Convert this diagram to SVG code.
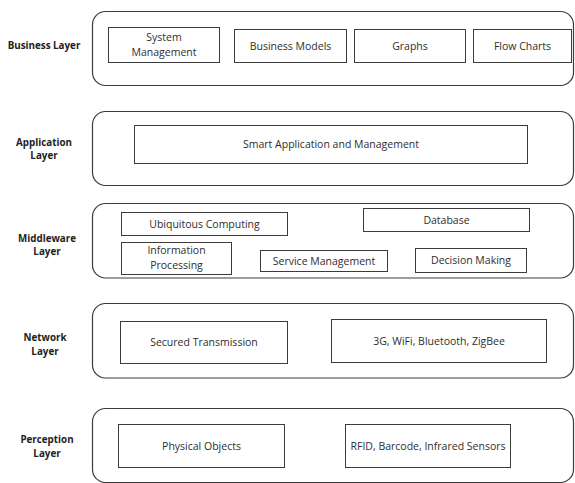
<svg xmlns="http://www.w3.org/2000/svg" width="575" height="483" viewBox="0 0 575 483">
  <style>
    .layer { fill: #ffffff; stroke: #3c3c3c; stroke-width: 1.2; }
    .box { fill: #ffffff; stroke: #3c3c3c; stroke-width: 1; }
    .lbl { font-family: "Open Sans", "Noto Sans", sans-serif; font-size: 9.8px; font-weight: bold; fill: #222222; text-anchor: middle; }
    .txt { font-family: "Open Sans", "Noto Sans", sans-serif; font-size: 10.5px; fill: #2e2e2e; text-anchor: middle; }
  </style>
  <rect x="0" y="0" width="575" height="483" fill="#ffffff"/>

  <!-- Business layer -->
  <g id="business-layer">
    <text class="lbl" x="44" y="49">Business Layer</text>
    <rect class="layer" x="92.5" y="11.5" width="481" height="74" rx="13"/>
    <g id="system-management">
      <rect class="box" x="108.5" y="27.5" width="111" height="35"/>
      <text class="txt" x="164" y="41">System</text>
      <text class="txt" x="164" y="55.5">Management</text>
    </g>
    <g id="business-models">
      <rect class="box" x="234.5" y="29.5" width="112" height="33"/>
      <text class="txt" x="290.5" y="49.5">Business Models</text>
    </g>
    <g id="graphs">
      <rect class="box" x="354.5" y="29.5" width="111" height="33"/>
      <text class="txt" x="410" y="49.5">Graphs</text>
    </g>
    <g id="flow-charts">
      <rect class="box" x="473.5" y="29.5" width="98" height="33"/>
      <text class="txt" x="522.5" y="49.5">Flow Charts</text>
    </g>
  </g>

  <!-- Application layer -->
  <g id="application-layer">
    <text class="lbl" x="44" y="145.5">Application</text>
    <text class="lbl" x="44" y="159">Layer</text>
    <rect class="layer" x="92.5" y="111.5" width="481" height="74" rx="13"/>
    <g id="smart-application">
      <rect class="box" x="134.5" y="125.5" width="393" height="38"/>
      <text class="txt" x="331" y="148">Smart Application and Management</text>
    </g>
  </g>

  <!-- Middleware layer -->
  <g id="middleware-layer">
    <text class="lbl" x="47" y="241.5">Middleware</text>
    <text class="lbl" x="47" y="255">Layer</text>
    <rect class="layer" x="92.5" y="203.5" width="481" height="74.5" rx="13"/>
    <g id="ubiquitous-computing">
      <rect class="box" x="121.5" y="212.5" width="166" height="23"/>
      <text class="txt" x="204.5" y="227.5">Ubiquitous Computing</text>
    </g>
    <g id="information-processing">
      <rect class="box" x="121.5" y="242.5" width="110" height="32"/>
      <text class="txt" x="176.5" y="254">Information</text>
      <text class="txt" x="176.5" y="268.5">Processing</text>
    </g>
    <g id="service-management">
      <rect class="box" x="260.5" y="250.5" width="127" height="21"/>
      <text class="txt" x="324" y="264.5">Service Management</text>
    </g>
    <g id="database">
      <rect class="box" x="363.5" y="208.5" width="166" height="23"/>
      <text class="txt" x="446.5" y="223.5">Database</text>
    </g>
    <g id="decision-making">
      <rect class="box" x="415.5" y="248.5" width="111" height="24"/>
      <text class="txt" x="471" y="264">Decision Making</text>
    </g>
  </g>

  <!-- Network layer -->
  <g id="network-layer">
    <text class="lbl" x="45" y="340.5">Network</text>
    <text class="lbl" x="45" y="354.5">Layer</text>
    <rect class="layer" x="92.5" y="303.5" width="481" height="74.5" rx="13"/>
    <g id="secured-transmission">
      <rect class="box" x="120.5" y="321.5" width="167" height="42"/>
      <text class="txt" x="204" y="346">Secured Transmission</text>
    </g>
    <g id="wireless-tech">
      <rect class="box" x="331.5" y="319.5" width="215" height="43"/>
      <text class="txt" x="439" y="344.5">3G, WiFi, Bluetooth, ZigBee</text>
    </g>
  </g>

  <!-- Perception layer -->
  <g id="perception-layer">
    <text class="lbl" x="47" y="442.5">Perception</text>
    <text class="lbl" x="47" y="456.5">Layer</text>
    <rect class="layer" x="92.5" y="408.5" width="481" height="74" rx="13"/>
    <g id="physical-objects">
      <rect class="box" x="118.5" y="424.5" width="166" height="43"/>
      <text class="txt" x="201.5" y="449.5">Physical Objects</text>
    </g>
    <g id="sensors">
      <rect class="box" x="345.5" y="424.5" width="165" height="43"/>
      <text class="txt" x="428" y="449.5">RFID, Barcode, Infrared Sensors</text>
    </g>
  </g>

  <!-- connectors: none drawn between layers -->
  <g id="connectors"></g>
</svg>
